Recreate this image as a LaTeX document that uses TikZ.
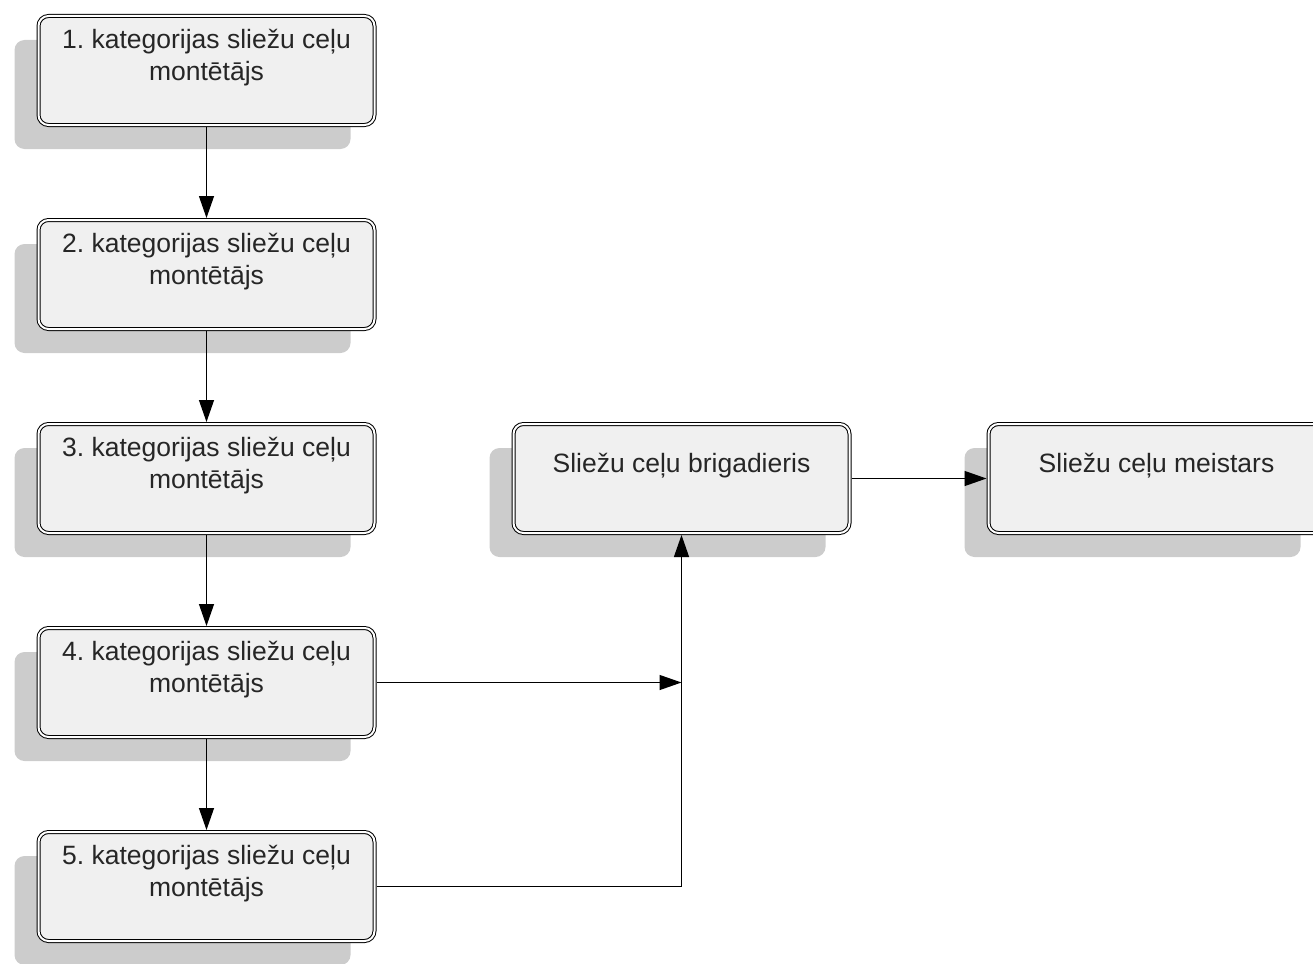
\documentclass[tikz,border=0pt]{standalone}
\usepackage{fontspec}
\setmainfont{Liberation Sans}
\usetikzlibrary{positioning,shadows,arrows.meta}
\frenchspacing
\newcommand\boxtext[1]{\parbox[c][109pt][c]{330pt}{\centering #1\par\vspace{26pt}}}

\begin{document}
\begin{tikzpicture}[node distance=91pt and 135pt, every node/.style = {shape=rectangle, rounded corners=10pt, draw, double=white, double distance=2pt, line width=1pt, fill=black!6, minimum width=336pt, minimum height=109pt, inner sep=0pt, outer sep=2pt, font=\fontsize{26.5}{32}\selectfont, text=black!85, drop shadow={shadow xshift=-24pt, shadow yshift=-24pt, fill=black!20, opacity=1}}, link/.style={-{Triangle[length=22pt,width=15pt]}, line width=1.3pt}]
     \useasboundingbox (0,0) rectangle (1313pt,-963pt);
     \node (n1) at (206.5pt,-70.5pt) {\boxtext{1. kategorijas sliežu ceļu\\ montētājs}};
     \node (n2) [below=of n1] {\boxtext{2. kategorijas sliežu ceļu\\ montētājs}};
     \node (n3) [below=of n2] {\boxtext{3. kategorijas sliežu ceļu\\ montētājs}};
     \node (n4) [below=of n3] {\boxtext{4. kategorijas sliežu ceļu\\ montētājs}};
     \node (n5) [below=of n4] {\boxtext{5. kategorijas sliežu ceļu\\ montētājs}};
     \node (bri) [right=of n3] {\boxtext{Sliežu ceļu brigadieris}};
     \node (mei) [right=of bri] {\boxtext{Sliežu ceļu meistars}};
     \draw[link] (n1) -- (n2);
     \draw[link] (n2) -- (n3);
     \draw[link] (n3) -- (n4);
     \draw[link] (n4) -- (n5);
     \draw[link] (n4.east) -- (n4.east -| bri.south);
     \draw[link] (n5.east) -| (bri.south);
     \draw[link] (bri) -- (mei);
\end{tikzpicture}
\end{document}
